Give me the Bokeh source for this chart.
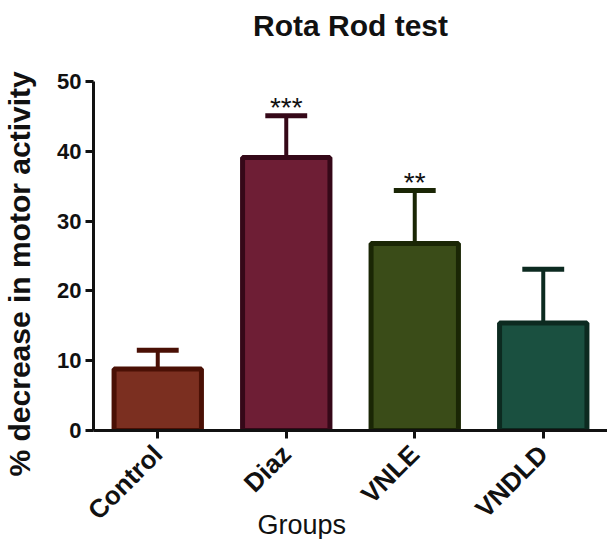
from math import pi
from bokeh.plotting import figure
from bokeh.models import ColumnDataSource, Range1d, FactorRange, FixedTicker, Title
from bokeh.transform import dodge
from bokeh.embed import file_html
from bokeh.resources import INLINE

groups = ["Control", "Diaz", "VNLE", "VNDLD"]
means = [8.8, 39.1, 26.8, 15.4]
upper = [11.5, 45.1, 34.4, 23.1]
stars = ["", "***", "**", ""]
fill_colors = ["#7B2F20", "#6E1E35", "#3A4C18", "#1A5040"]
line_colors = ["#4A1005", "#350818", "#1A2605", "#0C2A20"]
y_ticks = [0, 10, 20, 30, 40, 50]

FONT = "Liberation Sans"

src = ColumnDataSource(dict(g=groups, m=means, hi=upper, s=stars,
                            fc=fill_colors, lc=line_colors))

p = figure(width=607, height=539, x_range=FactorRange(*groups),
           y_range=Range1d(0, 50), output_backend="svg", toolbar_location=None,
           min_border_left=93, min_border_right=0, min_border_top=81,
           min_border_bottom=108)

p.title.text = ""

# spacer between the frame and the title, then the title itself
p.add_layout(Title(text=" ", text_font_size="2px", text_color="white", standoff=36), "above")
p.add_layout(Title(text="Rota Rod test", align="center", text_font=FONT,
                   text_font_size="30px", text_font_style="bold",
                   text_color="#111111", standoff=0), "above")

# error bars
p.segment(x0="g", x1="g", y0="m", y1="hi", source=src, line_color="lc", line_width=4)
p.segment(x0=dodge("g", -0.163, range=p.x_range), x1=dodge("g", 0.163, range=p.x_range),
          y0="hi", y1="hi", source=src, line_color="lc", line_width=5)
# bars
p.vbar(x="g", top="m", bottom=0, width=0.68, source=src, fill_color="fc",
       line_color="lc", line_width=5)
# significance stars
p.text(x="g", y="hi", text="s", source=src, text_align="center",
       text_baseline="alphabetic", text_font_size="28px", text_color="#111111",
       y_offset=-8)

p.xgrid.visible = False
p.ygrid.visible = False
p.outline_line_color = None
p.background_fill_color = "white"

p.yaxis.ticker = FixedTicker(ticks=y_ticks)
p.yaxis.bounds = (0, 50)
for ax in (p.xaxis, p.yaxis):
    ax.axis_line_width = 3
    ax.axis_line_color = "#111111"
    ax.major_tick_line_width = 3
    ax.major_tick_line_color = "#111111"
    ax.major_tick_in = 0
    ax.major_tick_out = 8
    ax.minor_tick_line_color = None
    ax.major_label_text_font = FONT
    ax.major_label_text_font_style = "bold"
    ax.major_label_text_color = "#111111"
p.yaxis.major_label_text_font_size = "22px"
p.yaxis.major_label_standoff = 4
p.xaxis.major_label_text_font_size = "26px"
p.xaxis.major_label_orientation = pi / 4
p.xaxis.major_label_standoff = 11

p.add_layout(Title(text="Groups", text_font=FONT, text_font_size="27px",
                   text_font_style="normal", align="left", offset=164,
                   vertical_align="top", text_color="#111111", standoff=-60), "below")
# spacer between the y axis and its title
p.add_layout(Title(text=" ", text_font_size="2px", text_color="white", standoff=15), "left")
p.add_layout(Title(text="% decrease in motor activity", text_font=FONT,
                   text_font_size="30px", text_font_style="bold", align="left",
                   offset=-46, text_color="#111111", standoff=0), "left")

open("out.html", "w").write(file_html(p, INLINE))
